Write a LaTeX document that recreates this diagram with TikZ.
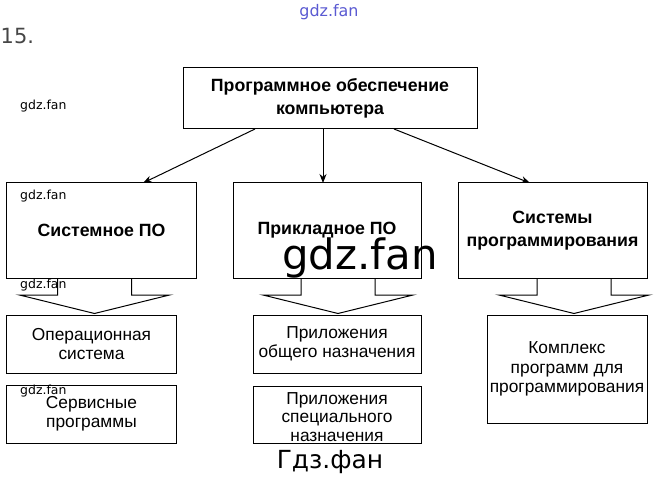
\documentclass[tikz,border=0pt]{standalone}
\usepackage{fontspec}
\setmainfont{Liberation Sans}
\newfontfamily\wmfont{DejaVu Sans}
\usetikzlibrary{arrows.meta,calc}
\begin{document}
\begin{tikzpicture}[x=1bp,y=-1bp,
  box/.style={draw,line width=1bp,inner sep=0pt,align=center},
  boldtxt/.style={font=\fontsize{17.8}{23}\selectfont\bfseries},
  regtxt/.style={font=\fontsize{17.4}{19.5}\selectfont},
  conn/.style={line width=1bp,-{Stealth[length=9bp,width=7bp]}},
  blockar/.style={line width=1bp},
  wm/.style={inner sep=0pt,font=\wmfont\fontsize{12.5}{14}\selectfont}]
\useasboundingbox[fill=white] (0,0) rectangle (657,480);
% top node
\node[box,boldtxt,minimum width=294bp,minimum height=61bp] (top) at (330,98.5)
  {Программное обеспечение\\компьютера};
% level 2
\node[box,boldtxt,minimum width=189bp,minimum height=95bp] (sys) at (101.5,230.5) {Системное ПО};
\node[box,boldtxt,minimum width=188bp,minimum height=95bp] (app) at (327,230.5) {Прикладное ПО};
\node[box,boldtxt,minimum width=189bp,minimum height=95bp] (prog) at (552.5,230.5) {Системы\\программирования};
% level 3
\node[box,regtxt,minimum width=169bp,minimum height=58bp] (os) at (91.5,344) {Операционная\\система};
\node[box,regtxt,minimum width=169bp,minimum height=58bp] (serv) at (91.5,414) {Сервисные\\программы};
\node[box,regtxt,minimum width=168bp,minimum height=58bp] (gen) at (337,344) {Приложения\\общего назначения};
\node[box,regtxt,minimum width=168bp,minimum height=57bp,font=\fontsize{17.4}{18.5}\selectfont] (spec) at (337,414.5) {\\[-2bp]Приложения\\специального\\назначения};
\node[box,regtxt,minimum width=160bp,minimum height=108bp] (cplx) at (567,369) {Комплекс\\программ для\\программирования};
% connectors from top box
\coordinate (t1) at (255,129);
\coordinate (t2) at (323,129);
\coordinate (t3) at (394,129);
\coordinate (e1) at (143,183);
\coordinate (e2) at (323,183);
\coordinate (e3) at (530,183);
\draw[conn] (t1) -- (e1);
\draw[conn] (t2) -- (e2);
\draw[conn] (t3) -- (e3);
% block arrows
\foreach \c/\n in {94.5/sys,338/app,574/prog}{
  \draw[blockar] (\c-37,278) -- (\c-37,295) -- (\c-75,295) -- (\c,313.5) -- (\c+75,295) -- (\c+37,295) -- (\c+37,278);
}
% watermarks
\node[inner sep=0pt,font=\wmfont\fontsize{16}{18}\selectfont,text={rgb,255:red,90;green,90;blue,210}] (wtop) at (329,12) {gdz.fan};
\node[inner sep=0pt,anchor=west,font=\wmfont\fontsize{21}{24}\selectfont,text={rgb,255:red,70;green,70;blue,70}] (num) at (0.5,36) {15.};
\node[wm,anchor=west] (w1) at (20,106) {gdz.fan};
\node[wm,anchor=west] (w2) at (20,196) {gdz.fan};
\node[wm,anchor=west] (w3) at (20,285) {gdz.fan};
\node[wm,anchor=west] (w4) at (20,391) {gdz.fan};
\node[inner sep=0pt,font=\wmfont\fontsize{42}{45}\selectfont] (wbig) at (360,258) {gdz.fan};
\node[inner sep=0pt,font=\wmfont\fontsize{25}{28}\selectfont] (wbot) at (330,462) {Гдз.фан};
\end{tikzpicture}
\end{document}
